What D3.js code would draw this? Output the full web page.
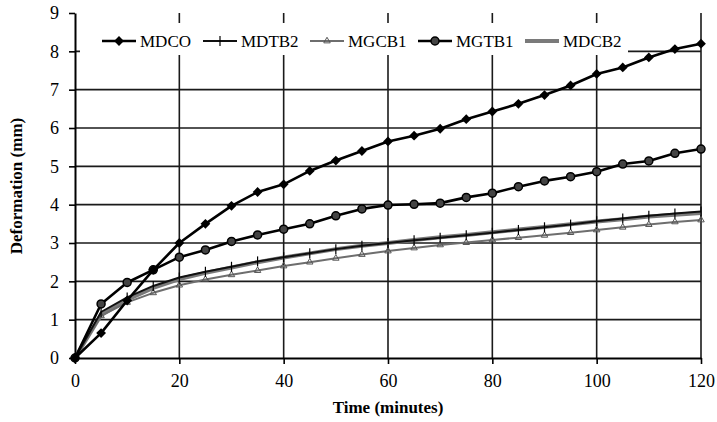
<!DOCTYPE html>
<html>
<head>
<meta charset="utf-8">
<script src="https://cdn.jsdelivr.net/npm/d3@7"></script>
<style>
  body { margin: 0; background: #fff; }
  text { font-family: "Liberation Serif", "Times New Roman", serif; }
</style>
</head>
<body>
<svg id="chart"></svg>
<script>
const times = d3.range(0, 125, 5);

// deformation readings (mm), one value per 5 minutes
const mdco  = [0, 0.65, 1.5, 2.3, 3.0, 3.5, 3.97, 4.33, 4.53, 4.88, 5.15, 5.4, 5.65, 5.8, 5.98, 6.23, 6.43, 6.63, 6.86, 7.11, 7.41, 7.58, 7.84, 8.06, 8.2];
const mdtb2 = [0, 1.2, 1.58, 1.88, 2.1, 2.25, 2.38, 2.52, 2.63, 2.73, 2.84, 2.93, 3.0, 3.07, 3.14, 3.2, 3.27, 3.34, 3.41, 3.48, 3.57, 3.64, 3.71, 3.77, 3.82];
const mgcb1 = [0, 1.1, 1.45, 1.7, 1.9, 2.05, 2.17, 2.28, 2.4, 2.5, 2.6, 2.7, 2.79, 2.87, 2.95, 3.01, 3.08, 3.14, 3.2, 3.27, 3.34, 3.41, 3.48, 3.55, 3.6];
const mgtb1 = [0, 1.41, 1.97, 2.3, 2.63, 2.82, 3.04, 3.21, 3.36, 3.5, 3.71, 3.89, 3.99, 4.01, 4.04, 4.19, 4.3, 4.47, 4.62, 4.73, 4.86, 5.06, 5.14, 5.34, 5.45];
const mdcb2 = [0, 1.12, 1.52, 1.83, 2.06, 2.22, 2.36, 2.5, 2.62, 2.73, 2.84, 2.93, 3.0, 3.08, 3.15, 3.21, 3.28, 3.35, 3.42, 3.49, 3.56, 3.62, 3.69, 3.74, 3.78];

const xTicks = [0, 20, 40, 60, 80, 100, 120];
const yTicks = [0, 1, 2, 3, 4, 5, 6, 7, 8, 9];

const margin = { top: 13, right: 16, bottom: 64, left: 75 };
const W = 717, H = 422;
const width = W - margin.left - margin.right;
const height = H - margin.top - margin.bottom;

const svg = d3.select("#chart").attr("width", W).attr("height", H);
const g = svg.append("g").attr("transform", `translate(${margin.left},${margin.top})`);

const x = d3.scaleLinear().domain([0, 120]).range([0, width]);
const y = d3.scaleLinear().domain([0, 9]).range([height, 0]);

// grid
g.append("g").selectAll("line").data(yTicks.filter(d => d > 0 && d < 9)).join("line")
  .attr("x1", 0).attr("x2", width)
  .attr("y1", d => y(d)).attr("y2", d => y(d))
  .attr("stroke", "#1a1a1a").attr("stroke-width", 1.6);
g.append("g").selectAll("line").data(xTicks.filter(d => d > 0)).join("line")
  .attr("x1", d => x(d)).attr("x2", d => x(d))
  .attr("y1", 0).attr("y2", height)
  .attr("stroke", "#1a1a1a").attr("stroke-width", 1.6);

// legend box (white, hides grid behind it)
g.append("rect").attr("x", 5).attr("y", 10).attr("width", 548).attr("height", 32).attr("fill", "#fff");

// axes
const xAxis = g.append("g").attr("transform", `translate(0,${height})`)
  .call(d3.axisBottom(x).tickValues(xTicks).tickSize(6).tickSizeOuter(0).tickPadding(10));
const yAxis = g.append("g")
  .call(d3.axisLeft(y).tickValues(yTicks).tickSize(6).tickSizeOuter(0).tickPadding(10));
[xAxis, yAxis].forEach(a => {
  a.select(".domain").attr("stroke", "#000").attr("stroke-width", 2);
  a.selectAll(".tick line").attr("stroke", "#000").attr("stroke-width", 1.6);
  a.selectAll(".tick text").attr("font-size", 18).attr("fill", "#000")
    .attr("font-family", '"Liberation Serif", serif');
});

svg.append("text").attr("x", 388).attr("y", 413).attr("text-anchor", "middle")
  .attr("font-size", 17).attr("font-weight", "bold").text("Time (minutes)");
svg.append("text").attr("transform", "translate(22,186) rotate(-90)").attr("text-anchor", "middle")
  .attr("font-size", 17).attr("font-weight", "bold").text("Deformation (mm)");

const line = d3.line().x((d, i) => x(times[i])).y(d => y(d));

const series = [
  { name: "MDCO", values: mdco, color: "#000", w: 2.6, marker: "diamond" },
  { name: "MDTB2", values: mdtb2, color: "#111", w: 2, marker: "plus" },
  { name: "MGCB1", values: mgcb1, color: "#6e6e6e", w: 2, marker: "triangle" },
  { name: "MGTB1", values: mgtb1, color: "#000", w: 2.6, marker: "circle" },
  { name: "MDCB2", values: mdcb2, color: "#7a7a7a", w: 4, marker: "none" }
];

function drawMarker(sel, s, cx, cy) {
  if (s.marker === "diamond") {
    sel.append("path").attr("d", d3.symbol(d3.symbolSquare, 48)())
      .attr("transform", `translate(${cx},${cy}) rotate(45)`).attr("fill", "#000");
  } else if (s.marker === "circle") {
    sel.append("circle").attr("cx", cx).attr("cy", cy).attr("r", 4)
      .attr("fill", "#444").attr("stroke", "#000").attr("stroke-width", 1.5);
  } else if (s.marker === "triangle") {
    sel.append("path").attr("d", d3.symbol(d3.symbolTriangle, 18)())
      .attr("transform", `translate(${cx},${cy})`).attr("fill", "none")
      .attr("stroke", "#555").attr("stroke-width", 1);
  } else if (s.marker === "plus") {
    sel.append("line").attr("x1", cx).attr("x2", cx).attr("y1", cy - 5).attr("y2", cy + 5)
      .attr("stroke", "#000").attr("stroke-width", 1.2);
  }
}

// draw lower group first, the thick gray one under the rest
const order = [4, 2, 1, 3, 0];
order.forEach(k => {
  const s = series[k];
  const sg = g.append("g");
  sg.append("path").datum(s.values).attr("d", line)
    .attr("fill", "none").attr("stroke", s.color).attr("stroke-width", s.w)
    .attr("stroke-linejoin", "round");
  s.values.forEach((v, i) => drawMarker(sg, s, x(times[i]), y(v)));
});

// legend
const legX = [27, 128, 235, 343, 450];
const legY = 28;
series.forEach((s, i) => {
  const lg = g.append("g");
  lg.append("line").attr("x1", legX[i]).attr("x2", legX[i] + 34).attr("y1", legY).attr("y2", legY)
    .attr("stroke", s.color).attr("stroke-width", s.w);
  drawMarker(lg, s, legX[i] + 17, legY);
  lg.append("text").attr("x", legX[i] + 38).attr("y", legY + 6)
    .attr("font-size", 17).attr("fill", "#000").text(s.name);
});
</script>
</body>
</html>
